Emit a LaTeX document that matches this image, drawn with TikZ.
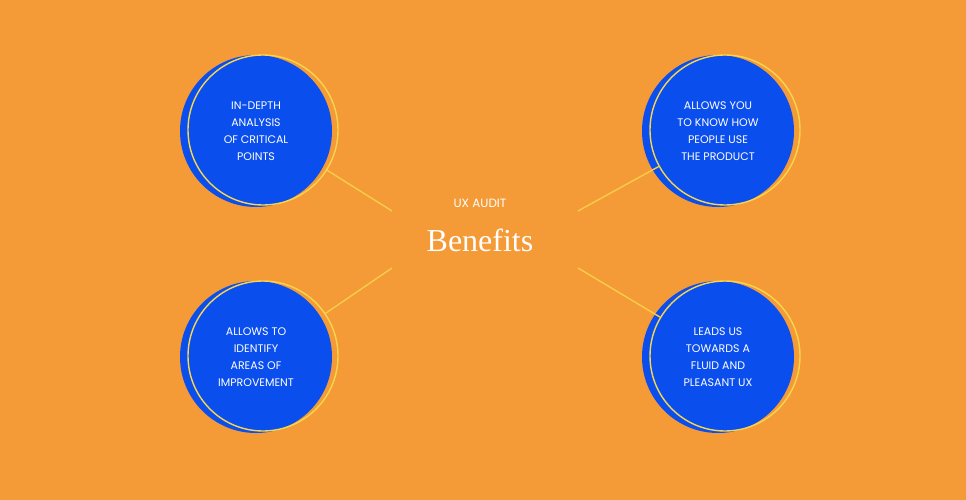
\documentclass[tikz,border=0pt]{standalone}
\usepackage{fontspec}
\setmainfont{Liberation Serif}
\newfontfamily\popfont{Poppins}
\usetikzlibrary{positioning}
\definecolor{auditorange}{HTML}{F49A36}
\definecolor{auditblue}{HTML}{0B4EEE}
\definecolor{audityellow}{HTML}{F7D64E}
\begin{document}
\begin{tikzpicture}[x=1pt,y=-1pt,
  benefit/.style={circle,fill=auditblue,minimum size=152pt,inner sep=0pt,
    text=white,align=center,font=\popfont\fontsize{11}{17}\selectfont},
  ring/.style={circle,draw=audityellow,line width=1.4pt,minimum size=150pt,inner sep=0pt},
  spoke/.style={draw=audityellow!85!auditorange,line width=1.4pt}]
\fill[auditorange] (0,0) rectangle (966,500);
% central title
\node[text=white,font=\popfont\fontsize{12}{14}\selectfont] (ux) at (480,203) {UX AUDIT};
\node[text=white,font=\fontsize{32}{36}\selectfont] (title) at (480,240) {Benefits};
% four benefits
\node[benefit] (tl) at (256,131) {IN-DEPTH\\ANALYSIS\\OF CRITICAL\\POINTS};
\node[ring] (tlring) at (263,130) {};
\node[benefit] (tr) at (718,131) {ALLOWS YOU\\TO KNOW HOW\\PEOPLE USE\\THE PRODUCT};
\node[ring] (trring) at (725,130) {};
\node[benefit] (bl) at (256,357) {ALLOWS TO\\IDENTIFY\\AREAS OF\\IMPROVEMENT};
\node[ring] (blring) at (263,356) {};
\node[benefit] (br) at (718,357) {LEADS US\\TOWARDS A\\FLUID AND\\PLEASANT UX};
\node[ring] (brring) at (725,356) {};
% spokes
\coordinate (ctl) at (392,211);
\coordinate (ctr) at (578,211);
\coordinate (cbl) at (392,268);
\coordinate (cbr) at (578,268);
\draw[spoke] (ctl) -- (tlring);
\draw[spoke] (ctr) -- (trring);
\draw[spoke] (cbl) -- (blring);
\draw[spoke] (cbr) -- (brring);
\end{tikzpicture}
\end{document}
